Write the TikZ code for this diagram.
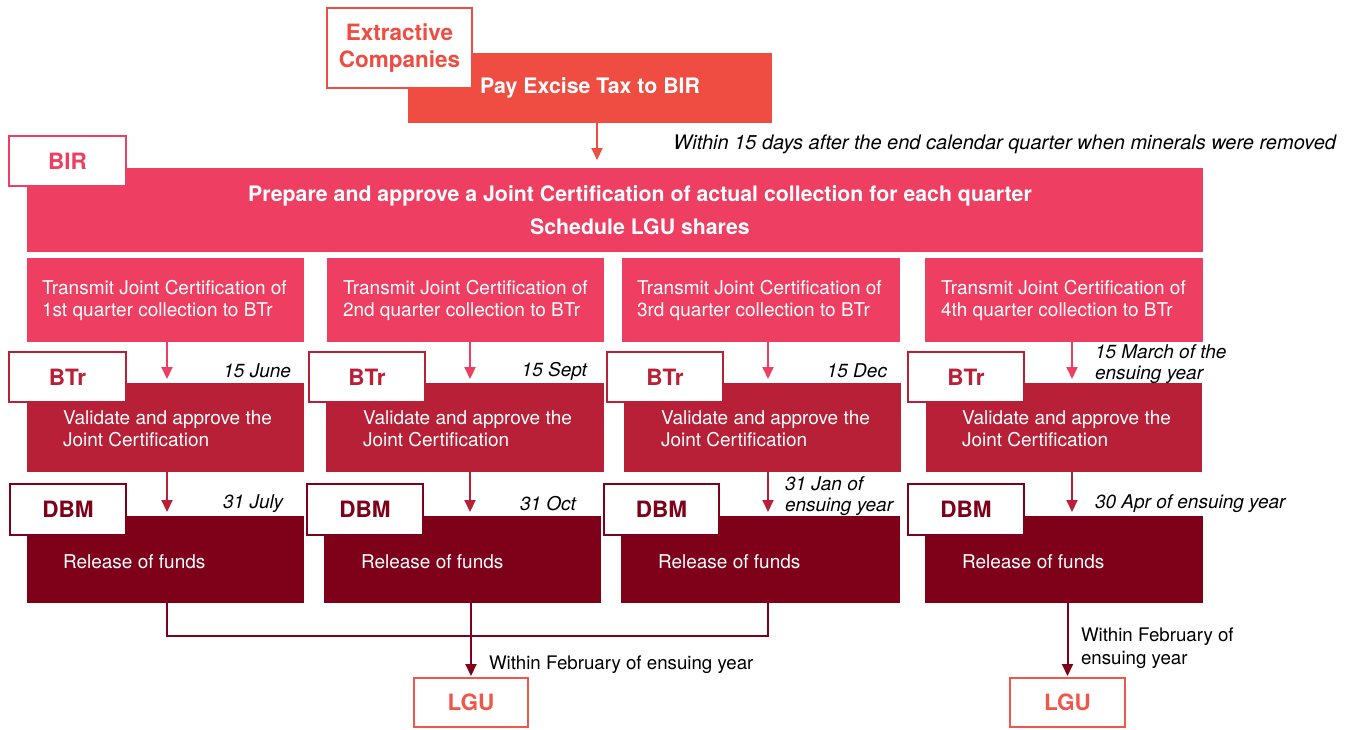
\documentclass[tikz,border=0pt]{standalone}
\usepackage{fontspec}
\setmainfont{TeX Gyre Heros}
\usetikzlibrary{arrows.meta}
\definecolor{cExt}{HTML}{EF4C42}
\definecolor{cBIR}{HTML}{EE3F62}
\definecolor{cBTr}{HTML}{B72037}
\definecolor{cDBM}{HTML}{7E0019}
\definecolor{cLGU}{HTML}{F0574A}
\newcommand\mkbox[7]{\node[#6, minimum width={#4-#2}, minimum height={#5-#3}] (#1) at ({(#2+#4)/2},{(#3+#5)/2}) {#7};}
\begin{document}
\begin{tikzpicture}[x=1pt,y=-1pt,
  every node/.style={inner sep=0pt, outer sep=0pt},
  blk/.style={fill=#1, draw=none, text=white},
  lbl/.style={fill=white, draw=#1, line width=2pt, text=#1, align=center, font=\fontsize{22.5}{27}\selectfont\bfseries},
  body/.style={anchor=west, align=left, text=white, font=\fontsize{19}{22}\selectfont},
  title/.style={align=center, text=white, font=\fontsize{21.3}{33}\selectfont\bfseries},
  note/.style={align=left, text=black, font=\fontsize{19}{21}\selectfont\itshape},
  plain/.style={align=left, text=black, font=\fontsize{18.7}{23}\selectfont},
  arr/.style={draw=#1, line width=2pt, -{Triangle[length=12pt,width=11pt]}},
  conn/.style={draw=#1, line width=2pt},
]
\useasboundingbox (0,0) rectangle (1353,729);
% blocks
\mkbox{pay}{408}{53}{772}{123}{blk=cExt, title}{Pay Excise Tax to BIR}
\mkbox{bir}{27}{168}{1203}{252}{blk=cBIR}{}
\node[title] (birtxt) at (640,210) {Prepare and approve a Joint Certification of actual collection for each quarter\\Schedule LGU shares};
\mkbox{t1}{27}{258}{304}{342}{blk=cBIR}{}
\mkbox{t2}{327}{258}{604}{342}{blk=cBIR}{}
\mkbox{t3}{622}{258}{900}{342}{blk=cBIR}{}
\mkbox{t4}{925}{258}{1203}{342}{blk=cBIR}{}
\mkbox{v1}{27}{383}{304}{472}{blk=cBTr}{}
\mkbox{v2}{326}{383}{604}{472}{blk=cBTr}{}
\mkbox{v3}{624}{383}{901}{472}{blk=cBTr}{}
\mkbox{v4}{926}{383}{1202}{472}{blk=cBTr}{}
\mkbox{r1}{27}{516}{304}{603}{blk=cDBM}{}
\mkbox{r2}{324}{516}{601}{603}{blk=cDBM}{}
\mkbox{r3}{621}{516}{900}{603}{blk=cDBM}{}
\mkbox{r4}{925}{516}{1203}{603}{blk=cDBM}{}
% block texts
\node[body] (t1x) at (42,300) {Transmit Joint Certification of\\1st quarter collection to BTr};
\node[body] (t2x) at (343,300) {Transmit Joint Certification of\\2nd quarter collection to BTr};
\node[body] (t3x) at (637,300) {Transmit Joint Certification of\\3rd quarter collection to BTr};
\node[body] (t4x) at (941,300) {Transmit Joint Certification of\\4th quarter collection to BTr};
\node[body] (v1x) at (63,429) {Validate and approve the\\Joint Certification};
\node[body] (v2x) at (363,429) {Validate and approve the\\Joint Certification};
\node[body] (v3x) at (661,429) {Validate and approve the\\Joint Certification};
\node[body] (v4x) at (962,429) {Validate and approve the\\Joint Certification};
\node[body] (r1x) at (63,562) {Release of funds};
\node[body] (r2x) at (361,562) {Release of funds};
\node[body] (r3x) at (658,562) {Release of funds};
\node[body] (r4x) at (962,562) {Release of funds};
% labels
\mkbox{ext}{327}{8}{472}{88}{lbl=cExt}{Extractive\\Companies}
\mkbox{birl}{9}{136}{126}{186}{lbl=cBIR}{BIR}
\mkbox{b1}{9}{352}{126}{402}{lbl=cBTr}{BTr}
\mkbox{b2}{309}{352}{425}{402}{lbl=cBTr}{BTr}
\mkbox{b3}{607}{352}{723}{402}{lbl=cBTr}{BTr}
\mkbox{b4}{908}{352}{1024}{402}{lbl=cBTr}{BTr}
\mkbox{d1}{10}{484}{126}{535}{lbl=cDBM}{DBM}
\mkbox{d2}{307}{484}{423}{535}{lbl=cDBM}{DBM}
\mkbox{d3}{604}{484}{719}{535}{lbl=cDBM}{DBM}
\mkbox{d4}{908}{484}{1024}{535}{lbl=cDBM}{DBM}
\mkbox{lgu1}{414}{678}{528}{727}{lbl=cLGU}{LGU}
\mkbox{lgu2}{1010}{678}{1125}{727}{lbl=cLGU}{LGU}
% notes
\node[note, anchor=east, font=\fontsize{20}{21}\selectfont\itshape] (n0) at (1336,144) {Within 15 days after the end calendar quarter when minerals were removed};
\node[note, anchor=east] (n1) at (291,371) {15 June};
\node[note, anchor=east] (n2) at (587,371) {15 Sept};
\node[note, anchor=east] (n3) at (887,371) {15 Dec};
\node[note, anchor=west] (n4) at (1095,364) {15 March of the\\ensuing year};
\node[note, anchor=east] (m1) at (283,504) {31 July};
\node[note, anchor=east] (m2) at (576,504) {31 Oct};
\node[note, anchor=west] (m3) at (785,496) {31 Jan of\\ensuing year};
\node[note, anchor=west] (m4) at (1095,504) {30 Apr of ensuing year};
\node[plain, anchor=west] (w1) at (489,665) {Within February of ensuing year};
\node[plain, anchor=west] (w2) at (1081,648) {Within February of\\ensuing year};
% arrow columns
\coordinate (a0) at (597,0);
\coordinate (a1) at (167,0);
\coordinate (a2) at (470,0);
\coordinate (a3) at (768,0);
\coordinate (a4) at (1072,0);
\coordinate (j) at (0,636);
% arrows
\draw[arr=cExt, shorten >=8pt] (pay.south -| a0) -- (bir.north -| a0);
\foreach \i in {1,2,3,4}{
  \draw[arr=cBIR, shorten >=4pt] (t\i.south -| a\i) -- (v\i.north -| a\i);
  \draw[arr=cBTr, shorten >=4pt] (v\i.south -| a\i) -- (r\i.north -| a\i);
}
\draw[conn=cDBM] (r1.south -| a1) |- (j -| lgu1.north) -| (r3.south -| a3);
\draw[arr=cDBM, shorten >=2pt] (r2.south -| lgu1.north) -- (lgu1.north);
\draw[arr=cDBM, shorten >=2pt] (r4.south -| lgu2.north) -- (lgu2.north);
\end{tikzpicture}
\end{document}
